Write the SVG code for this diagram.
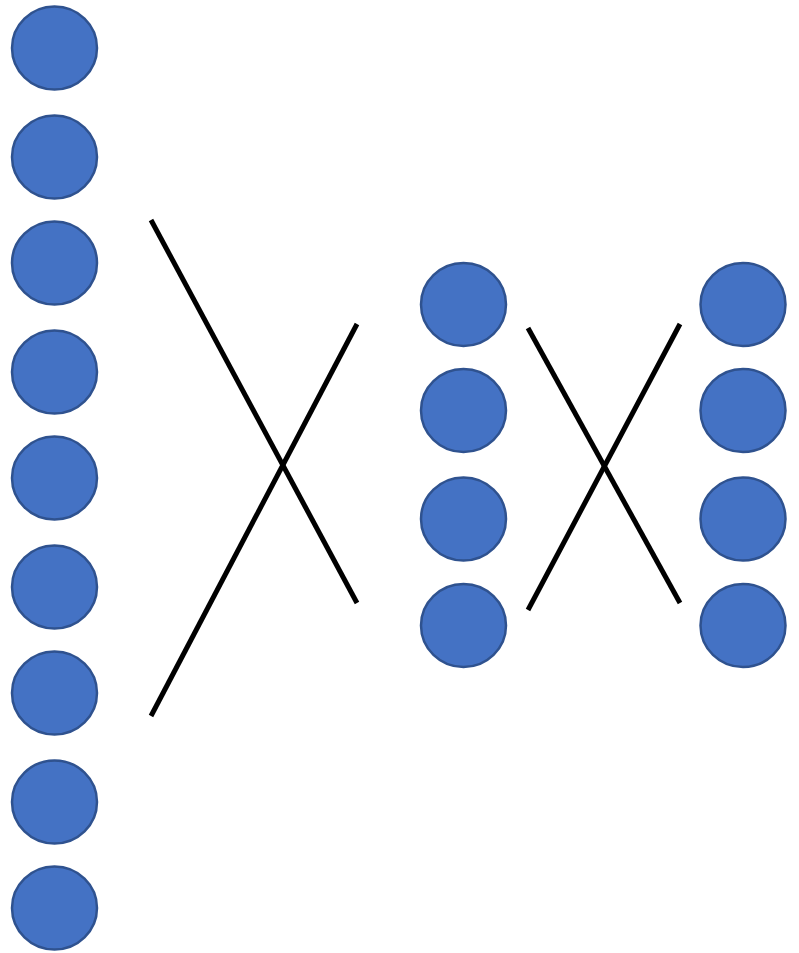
<svg xmlns="http://www.w3.org/2000/svg" width="799" height="953" viewBox="0 0 799 953">
<style>
.n{fill:#4472C4;stroke:#2F528F;stroke-width:2.5}
.c{stroke:#000;stroke-width:5;fill:none}
</style>
<rect width="799" height="953" fill="#fff"/>
<g id="connectors">
<line class="c" x1="151" y1="220" x2="357" y2="603"/>
<line class="c" x1="151" y1="716" x2="357" y2="324"/>
<line class="c" x1="528" y1="328" x2="680" y2="603"/>
<line class="c" x1="528" y1="610" x2="680" y2="324"/>
</g>
<g id="L1"><ellipse class="n" cx="54.5" cy="48" rx="42.5" ry="41.5"/></g>
<g id="L2"><ellipse class="n" cx="54.5" cy="157" rx="42.5" ry="41.5"/></g>
<g id="L3"><ellipse class="n" cx="54.5" cy="263" rx="42.5" ry="41.5"/></g>
<g id="L4"><ellipse class="n" cx="54.5" cy="372" rx="42.5" ry="41.5"/></g>
<g id="L5"><ellipse class="n" cx="54.5" cy="478" rx="42.5" ry="41.5"/></g>
<g id="L6"><ellipse class="n" cx="54.5" cy="587" rx="42.5" ry="41.5"/></g>
<g id="L7"><ellipse class="n" cx="54.5" cy="693" rx="42.5" ry="41.5"/></g>
<g id="L8"><ellipse class="n" cx="54.5" cy="802" rx="42.5" ry="41.5"/></g>
<g id="L9"><ellipse class="n" cx="54.5" cy="908" rx="42.5" ry="41.5"/></g>
<g id="M1"><ellipse class="n" cx="463.5" cy="304.5" rx="42.5" ry="41.5"/></g>
<g id="M2"><ellipse class="n" cx="463.5" cy="410.5" rx="42.5" ry="41.5"/></g>
<g id="M3"><ellipse class="n" cx="463.5" cy="519" rx="42.5" ry="41.5"/></g>
<g id="M4"><ellipse class="n" cx="463.5" cy="625.5" rx="42.5" ry="41.5"/></g>
<g id="R1"><ellipse class="n" cx="743" cy="304.5" rx="42.5" ry="41.5"/></g>
<g id="R2"><ellipse class="n" cx="743" cy="410.5" rx="42.5" ry="41.5"/></g>
<g id="R3"><ellipse class="n" cx="743" cy="519" rx="42.5" ry="41.5"/></g>
<g id="R4"><ellipse class="n" cx="743" cy="625.5" rx="42.5" ry="41.5"/></g>
</svg>
